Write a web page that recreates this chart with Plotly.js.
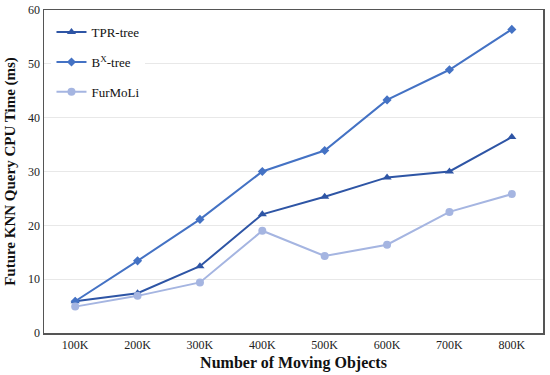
<!DOCTYPE html>
<html>
<head>
<meta charset="utf-8">
<script src="https://cdn.plot.ly/plotly-3.0.1.min.js"></script>
<style>html,body{margin:0;padding:0;background:#fff}#chart{width:550px;height:375px}</style>
</head>
<body>
<div id="chart"></div>
<script>
const categories = ["100K","200K","300K","400K","500K","600K","700K","800K"];
const tprTree = [5.9, 7.4, 12.4, 22.05, 25.3, 28.9, 30.0, 36.4];
const bxTree = [5.9, 13.4, 21.1, 30.0, 33.9, 43.3, 48.9, 56.4];
const furMoLi = [4.9, 6.9, 9.4, 19.0, 14.3, 16.4, 22.5, 25.8];
const seriesNames = ["TPR-tree", "B<sup>X</sup>-tree", "FurMoLi"];

const serif = "Times New Roman";
const traces = [
  {x: categories, y: tprTree, name: seriesNames[0], legendgroup: "a", mode: "lines+markers",
   line: {color: "#2E55A5", width: 2}, marker: {symbol: "triangle-up", size: 8, color: "#2E55A5"}},
  {x: categories, y: bxTree, name: seriesNames[1], legendgroup: "b", mode: "lines+markers",
   line: {color: "#4472C4", width: 2}, marker: {symbol: "diamond", size: 7, color: "#4472C4"}},
  {x: categories, y: furMoLi, name: seriesNames[2], legendgroup: "c", mode: "lines+markers",
   line: {color: "#A5B5E1", width: 2}, marker: {symbol: "circle", size: 8, color: "#A5B5E1"}}
];
const layout = {
  width: 550, height: 375,
  margin: {l: 44, r: 7, t: 10, b: 42},
  paper_bgcolor: "#fff", plot_bgcolor: "#fff",
  font: {family: serif, color: "#222", size: 12},
  showlegend: true,
  legend: {x: 0.015, y: 0.978, xanchor: "left", yanchor: "top", bgcolor: "#fff",
           traceorder: "grouped", tracegroupgap: 10, font: {family: serif, size: 13, color: "#111"}},
  xaxis: {type: "category", range: [-0.5, 7.5], showgrid: false, ticks: "", showline: true,
          linecolor: "#555", linewidth: 1.5, mirror: true,
          tickfont: {family: serif, size: 12, color: "#222"},
          title: {text: "<b>Number of Moving Objects</b>", font: {family: serif, size: 16, color: "#111"}, standoff: 6}},
  yaxis: {range: [0, 60], dtick: 10, showgrid: true, gridcolor: "#e8e8e8", gridwidth: 1, zeroline: false,
          showline: true, linecolor: "#555", linewidth: 1.5, mirror: true, ticks: "",
          tickfont: {family: serif, size: 12, color: "#222"},
          title: {text: "<b>Future KNN Query CPU Time (ms)</b>", font: {family: serif, size: 15, color: "#111"}, standoff: 9}}
};
Plotly.newPlot("chart", traces, layout, {displayModeBar: false, staticPlot: true});
</script>
</body>
</html>
